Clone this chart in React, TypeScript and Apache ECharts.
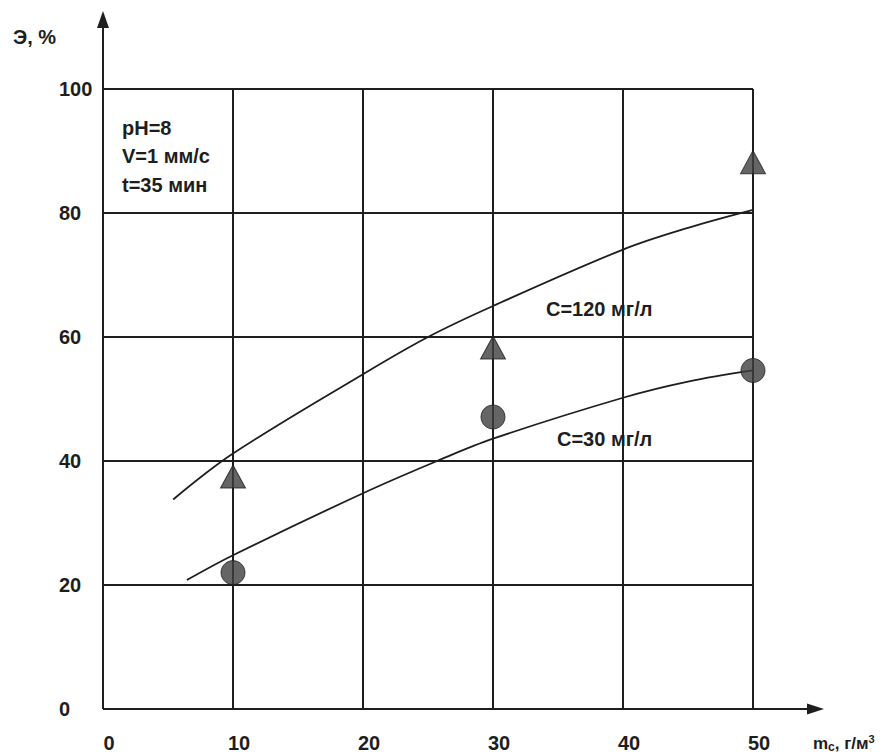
import React, { useEffect, useRef } from "react";
import * as echarts from "echarts";

// ---- data ----
const xTicks = [0, 10, 20, 30, 40, 50];
const yTicks = [0, 20, 40, 60, 80, 100];

// fitted curve C=120 mg/l
const curve120: [number, number][] = [
  [5.4, 33.8], [10, 41.2], [20, 54.0], [25, 60.0], [30, 65.0], [40, 74.1], [45, 77.6], [50, 80.5],
];
// fitted curve C=30 mg/l
const curve30: [number, number][] = [
  [6.45, 20.8], [10, 24.8], [20, 34.8], [25.7, 40.0], [30, 43.6], [40, 50.2], [45, 52.8], [50, 54.6],
];
// experimental points
const points120: [number, number][] = [[10, 37.5], [30, 58.3], [50, 88.2]];
const points30: [number, number][] = [[10, 22.0], [30, 47.1], [50, 54.6]];

const conditions = ["pH=8", "V=1 мм/с", "t=35 мин"];
const label120 = "C=120 мг/л";
const label30 = "C=30 мг/л";
const yName = "Э, %";

// ---- layout ----
const G_LEFT = 103;
const G_TOP = 89;
const G_W = 650;
const G_H = 620;
const G_BOTTOM = G_TOP + G_H;
const INK = "#1e1e1e";
const FONT = "'Liberation Sans', Arial, sans-serif";

export default function App() {
  const ref = useRef<HTMLDivElement>(null);

  useEffect(() => {
    document.body.style.margin = "0";
    if (!ref.current) return;
    const chart = echarts.init(ref.current, undefined, { renderer: "svg" });

    const textStyle = (size: number) => ({
      fontFamily: FONT,
      fontSize: size,
      fontWeight: "bold" as const,
      fill: INK,
    });

    chart.setOption({
      animation: false,
      backgroundColor: "#ffffff",
      grid: { left: G_LEFT, top: G_TOP, width: G_W, height: G_H, containLabel: false },
      xAxis: {
        type: "value",
        min: 0,
        max: 50,
        interval: 10,
        axisLine: { show: false },
        axisTick: { show: false },
        splitLine: { show: true, lineStyle: { color: INK, width: 2 } },
        axisLabel: {
          margin: 24,
          fontFamily: FONT,
          fontSize: 20,
          fontWeight: "bold",
          color: INK,
          padding: [0, 0, 0, 12],
          formatter: (v: number) => (xTicks.includes(v) ? String(v) : ""),
        },
      },
      yAxis: {
        type: "value",
        min: 0,
        max: 100,
        interval: 20,
        axisLine: { show: false },
        axisTick: { show: false },
        splitLine: { show: true, lineStyle: { color: INK, width: 2 } },
        axisLabel: {
          margin: 44,
          align: "left",
          fontFamily: FONT,
          fontSize: 20,
          fontWeight: "bold",
          color: INK,
          formatter: (v: number) => (yTicks.includes(v) ? String(v) : ""),
        },
      },
      graphic: [
        // axes with arrows
        {
          type: "line",
          shape: { x1: G_LEFT, y1: G_BOTTOM, x2: G_LEFT, y2: 24 },
          style: { stroke: INK, lineWidth: 2 },
          z: 10,
        },
        {
          type: "polygon",
          shape: { points: [[G_LEFT, 11], [G_LEFT - 6, 28], [G_LEFT + 6, 28]] },
          style: { fill: INK },
          z: 10,
        },
        {
          type: "line",
          shape: { x1: G_LEFT, y1: G_BOTTOM, x2: 812, y2: G_BOTTOM },
          style: { stroke: INK, lineWidth: 2 },
          z: 10,
        },
        {
          type: "polygon",
          shape: { points: [[824, G_BOTTOM], [807, G_BOTTOM - 5.5], [807, G_BOTTOM + 5.5]] },
          style: { fill: INK },
          z: 10,
        },
        // axis names
        {
          type: "text",
          x: 13,
          y: 37,
          style: { ...textStyle(20), text: yName, verticalAlign: "middle" },
        },
        {
          type: "text",
          x: 813,
          y: 743,
          style: {
            text: "{m|m}{s|c}{m|, г/м}{p|3}",
            verticalAlign: "middle",
            rich: {
              m: { fontFamily: FONT, fontSize: 17, fontWeight: "bold", fill: INK, lineHeight: 20 },
              s: { fontFamily: FONT, fontSize: 12, fontWeight: "bold", fill: INK, lineHeight: 20, padding: [8, 0, 0, 0] },
              p: { fontFamily: FONT, fontSize: 11, fontWeight: "bold", fill: INK, lineHeight: 20, padding: [0, 0, 9, 0] },
            },
          },
        },
        // conditions
        ...conditions.map((t, i) => ({
          type: "text",
          x: 122,
          y: 127.5 + i * 28.5,
          style: { ...textStyle(20), text: t, verticalAlign: "middle" },
          z: 20,
        })),
        // curve labels
        {
          type: "text",
          x: 546,
          y: 309,
          style: { ...textStyle(20), text: label120, verticalAlign: "middle" },
          z: 20,
        },
        {
          type: "text",
          x: 557,
          y: 439,
          style: { ...textStyle(20), text: label30, verticalAlign: "middle" },
          z: 20,
        },
      ],
      series: [
        {
          name: "curve120",
          type: "line",
          data: curve120,
          smooth: 0.35,
          showSymbol: false,
          lineStyle: { color: INK, width: 1.8 },
          z: 3,
          silent: true,
        },
        {
          name: "curve30",
          type: "line",
          data: curve30,
          smooth: 0.35,
          showSymbol: false,
          lineStyle: { color: INK, width: 1.8 },
          z: 3,
          silent: true,
        },
        {
          name: "points120",
          type: "scatter",
          data: points120,
          symbol: "triangle",
          symbolSize: [25, 23],
          itemStyle: { color: "#3f3f3f", borderColor: INK, borderWidth: 1 },
          z: 5,
        },
        {
          name: "points30",
          type: "scatter",
          data: points30,
          symbol: "circle",
          symbolSize: 24,
          itemStyle: { color: "#3f3f3f", borderColor: INK, borderWidth: 1 },
          z: 5,
        },
      ],
    });

    return () => chart.dispose();
  }, []);

  return <div ref={ref} style={{ width: 890, height: 756 }} />;
}
